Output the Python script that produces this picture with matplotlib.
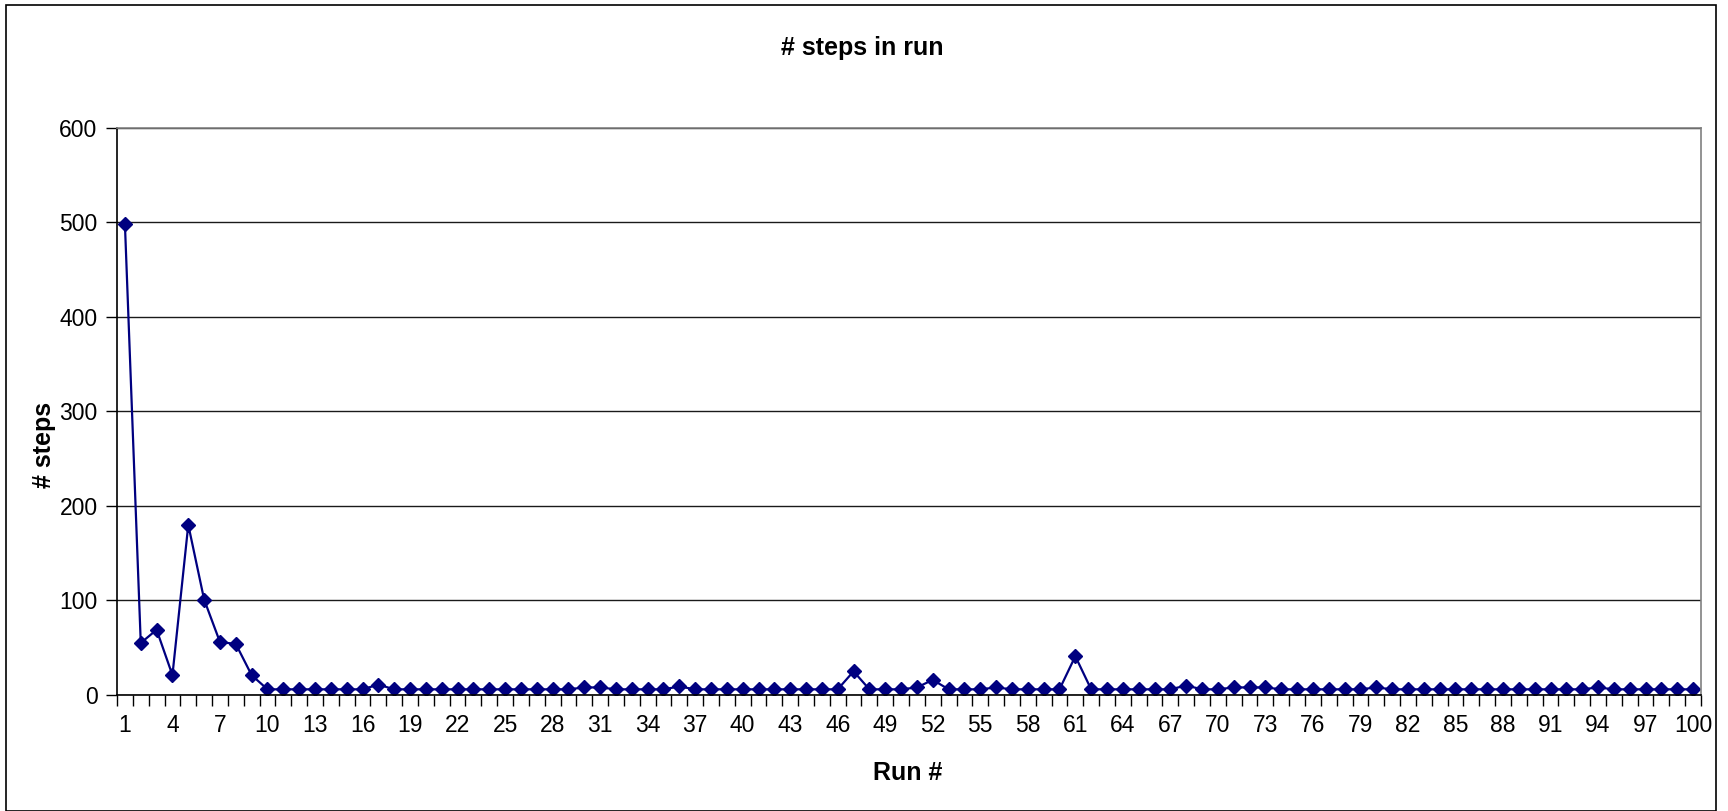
import matplotlib
matplotlib.use("Agg")
import matplotlib.pyplot as plt
from matplotlib.patches import Rectangle
from matplotlib.ticker import FixedLocator, NullFormatter

plt.rcParams['font.family'] = ['Liberation Sans', 'DejaVu Sans']

# Run numbers and step counts per run
runs = list(range(1, 101))
steps = [498, 55, 69, 21, 180, 101, 56, 54, 21, 6,
         6, 6, 6, 6, 6, 6, 11, 6, 6, 6,
         6, 6, 6, 6, 6, 6, 6, 6, 6, 8,
         8, 6, 6, 6, 6, 9, 6, 6, 6, 6,
         6, 6, 6, 6, 6, 6, 25, 6, 6, 6,
         8, 16, 6, 6, 6, 8, 6, 6, 6, 6,
         41, 6, 6, 6, 6, 6, 6, 10, 6, 6,
         8, 8, 8, 6, 6, 6, 6, 6, 6, 8,
         6, 6, 6, 6, 6, 6, 6, 6, 6, 6,
         6, 6, 6, 8, 6, 6, 6, 6, 6, 6]
tick_labels = [str(r) for r in runs[::3]]
y_ticks = [0, 100, 200, 300, 400, 500, 600]

W, H = 1728, 811
fig = plt.figure(figsize=(W / 100, H / 100), dpi=100)

# outer chart border
fig.patches.append(Rectangle((6 / W, 0), (1716 - 6) / W, (H - 5) / H,
                             transform=fig.transFigure, fill=False,
                             edgecolor='black', linewidth=1.2))

left, right, top, bottom = 117, 1701, 127.7, 695
ax = fig.add_axes([left / W, 1 - bottom / H, (right - left) / W, (bottom - top) / H])

ax.plot(runs, steps, color='#000080', linewidth=1.6, marker='D',
        markersize=6.8, markerfacecolor='#000080', markeredgecolor='#000080')

ax.set_xlim(0.5, 100.5)
ax.set_ylim(0, 600)

# y axis
ax.set_yticks(y_ticks)
ax.set_yticklabels([str(v) for v in y_ticks], fontsize=16.5)
ax.yaxis.grid(True, color='#1a1a1a', linewidth=1.0)
ax.set_axisbelow(True)
ax.tick_params(axis='y', direction='out', length=8, width=1, pad=6)

# x axis: labels on every third run, tick marks between categories
ax.xaxis.set_major_locator(FixedLocator(runs[::3]))
ax.set_xticklabels(tick_labels, fontsize=16.5)
ax.tick_params(axis='x', which='major', length=0, pad=14)
ax.xaxis.set_minor_locator(FixedLocator([r - 0.5 for r in runs] + [100.5]))
ax.xaxis.set_minor_formatter(NullFormatter())
ax.tick_params(axis='x', which='minor', direction='out', length=8, width=1, color='black')

for s in ('left', 'bottom'):
    ax.spines[s].set_color('black')
    ax.spines[s].set_linewidth(1.2)
for s in ('top', 'right'):
    ax.spines[s].set_color('#808080')
    ax.spines[s].set_linewidth(1.2)

fig.text(862 / W, 1 - 48 / H, '# steps in run', ha='center', va='center',
         fontsize=18, fontweight='bold')
fig.text(44 / W, 1 - 445 / H, '# steps', ha='center', va='center',
         rotation=90, fontsize=18, fontweight='bold')
fig.text(908 / W, 1 - 773 / H, 'Run #', ha='center', va='center',
         fontsize=18, fontweight='bold')

fig.savefig('out.png', dpi=100)
